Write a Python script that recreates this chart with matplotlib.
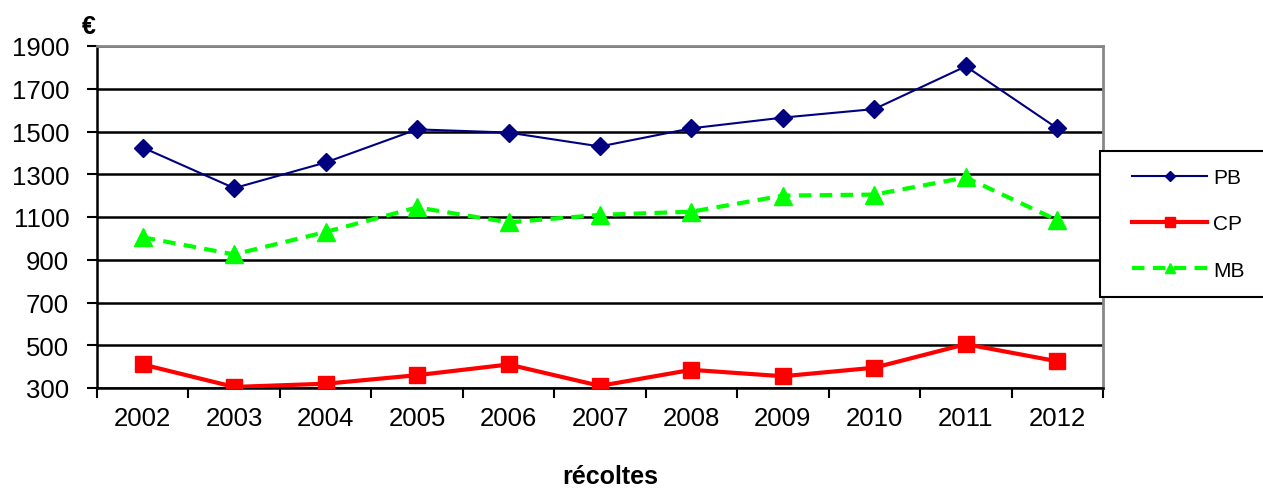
import matplotlib.pyplot as plt
from matplotlib.patches import Rectangle

plt.rcParams["font.family"] = ["Liberation Sans", "DejaVu Sans"]

years = ["2002", "2003", "2004", "2005", "2006", "2007", "2008", "2009", "2010", "2011", "2012"]
pb = [1425, 1235, 1355, 1510, 1495, 1430, 1515, 1565, 1605, 1805, 1515]
cp = [410, 305, 320, 360, 410, 310, 385, 355, 395, 505, 425]
mb = [1005, 925, 1030, 1145, 1075, 1110, 1125, 1200, 1205, 1285, 1085]
yticks = [300, 500, 700, 900, 1100, 1300, 1500, 1700, 1900]

W, H = 1263, 489
fig = plt.figure(figsize=(W / 100, H / 100), dpi=100)
ax = fig.add_axes([97 / W, 1 - 389 / H, (1103 - 97) / W, (389 - 47) / H])

x = list(range(len(years)))
ax.plot(x, pb, color="#000080", lw=1.5, marker="D", ms=9, label="PB", zorder=3)
ax.plot(x, cp, color="#ff0000", lw=3, marker="s", ms=11.5, label="CP", zorder=3)
ax.plot(x, mb, color="#00ff00", lw=3, ls=(0, (3, 2)), marker="^", ms=12.5,
        label="MB", zorder=3)

ax.set_xlim(-0.5, len(years) - 0.5)
ax.set_ylim(300, 1900)
ax.set_yticks(yticks)
ax.set_yticklabels([str(v) for v in yticks], fontsize=18.5)
ax.set_xticks(x)
ax.set_xticklabels(years, fontsize=18.5)
ax.tick_params(axis="x", which="major", length=0, pad=13)
ax.set_xticks([i - 0.5 for i in range(len(years) + 1)], minor=True)
ax.tick_params(axis="x", which="minor", length=7, width=1.5, color="black")
ax.tick_params(axis="y", length=7, width=1.5, color="black", pad=13)

ax.grid(axis="y", color="black", lw=1.8, zorder=1)
ax.set_axisbelow(True)
for s in ["top", "right"]:
    ax.spines[s].set_color("#888888")
    ax.spines[s].set_linewidth(2)
for s in ["left", "bottom"]:
    ax.spines[s].set_color("black")
    ax.spines[s].set_linewidth(1.8)

fig.text(82 / W, 1 - 27 / H, "€", fontsize=18, fontweight="bold", ha="left", va="center")
fig.text(610 / W, 1 - 477 / H, "récoltes", fontsize=18, fontweight="bold",
         ha="center", va="center")

# legend box drawn separately so the padding matches
box = Rectangle((1100 / W, 1 - 298 / H), 0.2, 146 / H, transform=fig.transFigure,
                facecolor="white", edgecolor="black", lw=1.5, zorder=5)
fig.add_artist(box)
leg = fig.legend(loc="center left", bbox_to_anchor=(1132 / W, 1 - 225 / H),
                 fontsize=15, frameon=False, labelspacing=1.3, handlelength=3.6,
                 handletextpad=0.3, borderpad=0, borderaxespad=0, markerscale=0.6)
leg.set_zorder(6)

fig.savefig("out.png", dpi=100)
